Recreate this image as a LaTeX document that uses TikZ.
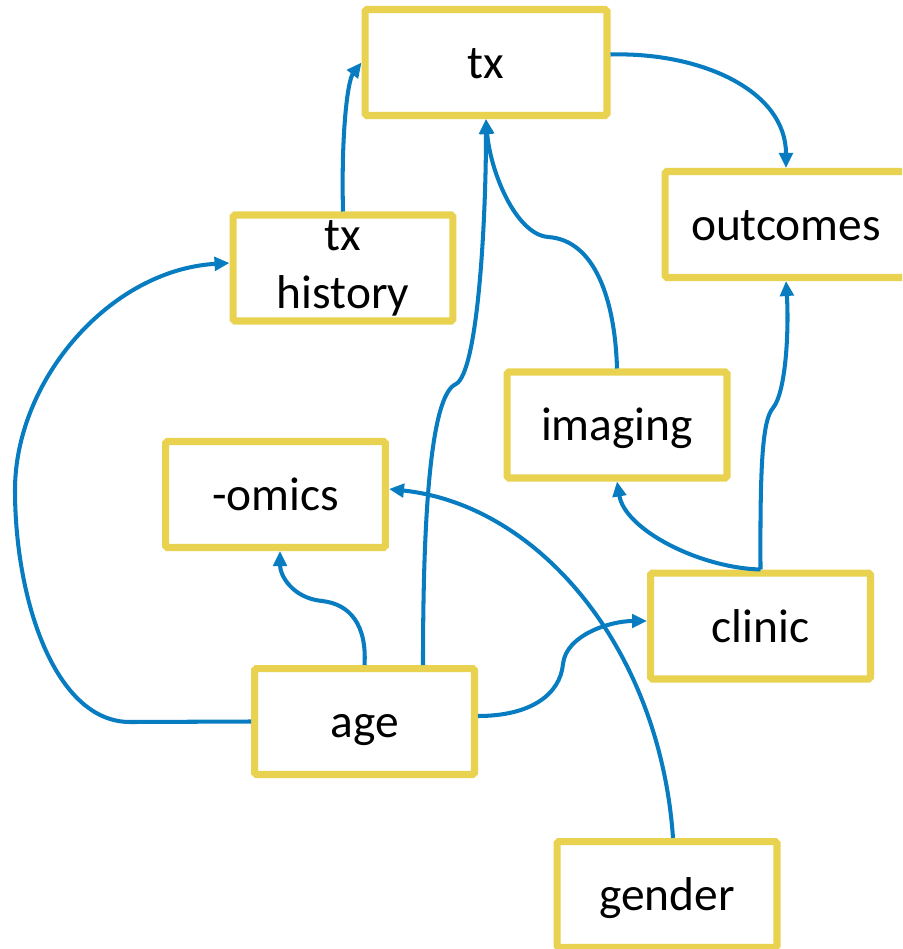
\documentclass[tikz,border=0pt]{standalone}
\usepackage{fontspec}
\setmainfont{Carlito}
\usepackage{xcolor}
\usepackage{tikz}
\usetikzlibrary{positioning, arrows.meta}
\definecolor{boxyellow}{RGB}{233,210,80}
\definecolor{linkblue}{RGB}{8,124,192}
\begin{document}
\begin{tikzpicture}[
    x=0.02cm, y=-0.02cm,
    frame/.style={rectangle, draw=boxyellow, line width=4pt, fill=white, rounded corners=1pt, minimum width=4.4cm, minimum height=2.12cm, inner sep=0pt, align=center, font=\fontsize{27}{33}\selectfont},
    box/.style={frame, text height=0.84cm, text depth=0.2cm},
    wide/.style={box, minimum width=4.84cm},
    arrow/.style={-{Triangle[length=0.3cm, width=0.27cm]}, draw=linkblue, line width=2.3pt}
]
\clip (0,0) rectangle (902,949);

\node[wide] (tx) at (486,62.5) {tx};
\node[wide] (outcomes) at (786,224.5) {outcomes};
\node[frame] (txhist) at (343,268) {tx\\history};
\node[box] (imaging) at (617,425) {imaging};
\node[box] (omics) at (275.5,494.5) {-omics};
\node[box] (clinic) at (760.5,626) {clinic};
\node[box] (age) at (364.5,721.5) {age};
\node[box] (gender) at (667,894.5) {gender};

\coordinate (agebend) at (456,384);
\coordinate (imgbend) at (548,237);
\coordinate (clinbend) at (773,408);
\coordinate (omicsbend) at (322,601);
\coordinate (clinicbend) at (563,664);
\coordinate (loopcorner) at (130,722);
\coordinate (loopleft) at (15,490);

\draw[arrow] (txhist.north) .. controls (341,130) and (348,80) .. (tx.west);
\draw[arrow] ([yshift=0.16cm]tx.east) .. controls (700,52) and (786,90) .. (outcomes.north);
\draw[arrow] ([xshift=1.17cm]age.north) .. controls (423,520) and (430,395) .. (agebend) .. controls (478,372) and (486,220) .. (tx.south);
\draw[arrow] (imaging.north) .. controls (615,300) and (595,240) .. (imgbend) .. controls (515,234) and (490,170) .. (tx.south);
\draw[arrow] (clinic.north) .. controls (700,568) and (625,530) .. (imaging.south);
\draw[arrow] (clinic.north) .. controls (760,470) and (762,420) .. (clinbend) .. controls (786,392) and (789,330) .. (outcomes.south);
\draw[arrow] (age.north) .. controls (367,625) and (350,604) .. (omicsbend) .. controls (292,598) and (280,575) .. ([xshift=0.09cm]omics.south);
\draw[arrow] ([yshift=0.11cm]age.east) .. controls (530,716) and (560,695) .. (clinicbend) .. controls (566,635) and (610,621) .. ([yshift=0.1cm]clinic.west);
\draw[arrow] ([xshift=0.12cm]gender.north) .. controls (660,650) and (540,505) .. ([yshift=0.11cm]omics.east);
\draw[arrow] (age.west) -- (loopcorner) .. controls (55,722) and (15,600) .. (loopleft) .. controls (15,380) and (110,270) .. ([yshift=0.1cm]txhist.west);
\end{tikzpicture}
\end{document}
